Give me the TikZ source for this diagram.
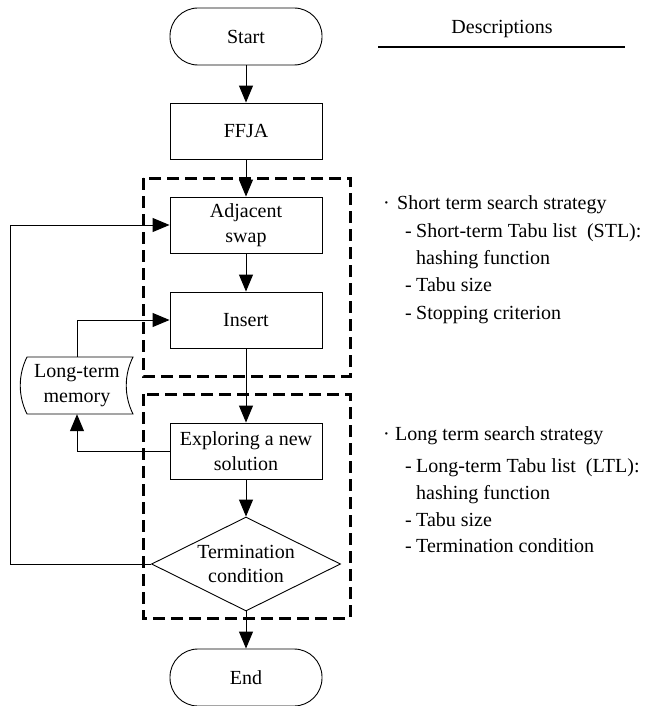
\documentclass[tikz,border=0pt]{standalone}
\usepackage{fontspec}
\setmainfont{Liberation Serif}
\newfontfamily\figfont{Liberation Serif}
\usetikzlibrary{arrows.meta,shapes.geometric}
\begin{document}
\begin{tikzpicture}[x=1pt,y=-1pt,
  every node/.style={font=\figfont\fontsize{20}{24.5}\selectfont},
  procbox/.style={draw,line width=0.9pt,rectangle,minimum width=152,minimum height=56,inner sep=0pt,align=center},
  termbox/.style={procbox,rounded corners=28pt,minimum height=57},
  decbox/.style={draw,line width=0.9pt,diamond,minimum width=189,minimum height=94,inner sep=0pt},
  arr/.style={line width=1pt,-{Triangle[length=17pt,width=14pt]}},
  link/.style={line width=0.9pt},
  dashbox/.style={line width=3pt,dash pattern=on 12pt off 6pt},
  desc/.style={anchor=base west,inner sep=0pt}]
\useasboundingbox (0,0) rectangle (649,706);
% flowchart nodes
\node[termbox] (start) at (246,36.5) {Start};
\node[procbox] (ffja) at (246,131) {FFJA};
\node[procbox] (adj) at (246,225) {Adjacent\\swap};
\node[procbox] (ins) at (246,320) {Insert};
\node[procbox] (exp) at (246,451) {Exploring a new\\solution};
\node[decbox] (dia) at (246,564) {};
\node[align=center,inner sep=0pt] (diat) at (dia.center) {Termination\\condition};
\node[termbox] (end) at (246,677.5) {End};
\node[minimum width=106,minimum height=57,inner sep=0pt,align=center] (ltm) at (77,385.5) {Long-term\\memory};
\draw[link] (27,357) -- (133,357) .. controls (124,375) and (124,396) .. (133,414) -- (27,414) .. controls (18,396) and (18,375) .. (27,357) -- cycle;
% dashed groups
\draw[dashbox] (143,178) rectangle (350,376);
\draw[dashbox] (143,394) rectangle (350,618);
% connectors
\draw[arr] (start) -- (ffja);
\draw[arr] (ffja) -- (adj);
\draw[arr] (adj) -- (ins);
\draw[arr] (ins) -- (exp);
\draw[arr] (exp) -- (dia);
\draw[arr] (dia) -- (end);
\coordinate (loopc) at (10,564);
\draw[arr] (dia.west) -- (loopc) |- (adj.west);
\draw[arr] (ltm.north) |- (ins.west);
\draw[arr] (exp.west) -| (ltm.south);
% descriptions
\node[anchor=base] (dtitle) at (502,34) {Descriptions};
\coordinate (dl) at (378,47);
\coordinate (dr) at (625,47);
\draw[line width=1.2pt] (dl) -- (dr);
\node[desc] (b1) at (383,209) {\textperiodcentered};
\node[desc] (s0) at (397,209) {Short term search strategy};
\node[desc] (s1) at (405,237) {-};
\node[desc] (s1t) at (416,237) {Short-term Tabu list\ \ (STL):};
\node[desc] (s2t) at (416,264) {hashing function};
\node[desc] (s3) at (405,291.5) {-};
\node[desc] (s3t) at (416,291.5) {Tabu size};
\node[desc] (s4) at (405,319) {-};
\node[desc] (s4t) at (416,319) {Stopping criterion};
\node[desc] (b2) at (383,440) {\textperiodcentered};
\node[desc] (l0) at (395,440) {Long term search strategy};
\node[desc] (l1) at (405,472) {-};
\node[desc] (l1t) at (416,472) {Long-term Tabu list\ \ (LTL):};
\node[desc] (l2t) at (416,499) {hashing function};
\node[desc] (l3) at (405,526) {-};
\node[desc] (l3t) at (416,526) {Tabu size};
\node[desc] (l4) at (405,552) {-};
\node[desc] (l4t) at (416,552) {Termination condition};
\end{tikzpicture}
\end{document}
